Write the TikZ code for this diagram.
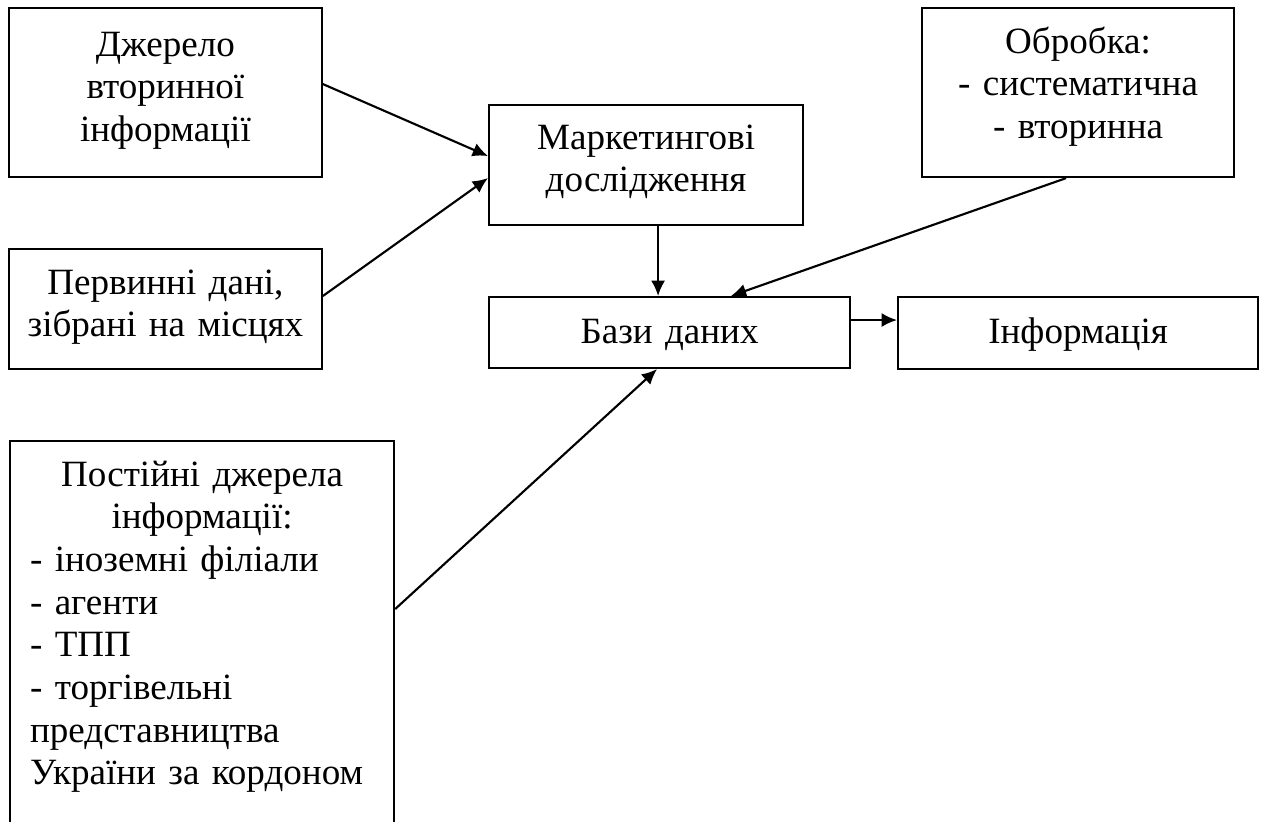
\documentclass[tikz,border=0pt]{standalone}
\usepackage{fontspec}
\setmainfont{Liberation Serif}
\usetikzlibrary{arrows.meta}

\tikzset{every picture/.style={line width=1.5pt}}
\tikzset{
  box/.style={draw, line width=1.6pt, inner sep=0pt, anchor=north west, align=center,
    font=\fontsize{27.8}{32}\selectfont},
  link/.style={line width=1.6pt, -{Latex[length=11.5pt,width=10.5pt]}}
}

\begin{document}
\begin{tikzpicture}[x=0.75pt,y=0.75pt,yscale=-1,xscale=1]
\useasboundingbox (0,0) rectangle (1262,821);

%Shape: Rectangle [src]
\node [box, minimum width=234.5pt, text width=200pt, text height=36pt, text depth=90.75pt] (src) at (8,7)
  {Джерело\\ вторинної\\ інформації};
%Shape: Rectangle [field]
\node [box, minimum width=234.5pt, text width=220pt, text height=33.75pt, text depth=56.25pt] (field) at (8,248)
  {Первинні дані,\\ зібрані на місцях};
%Shape: Rectangle [mkt]
\node [box, minimum width=235.5pt, text width=200pt, text height=33pt, text depth=57pt] (mkt) at (488,104)
  {Маркетингові\\ дослідження};
%Shape: Rectangle [proc]
\node [box, minimum width=234pt, text width=200pt, text height=33.75pt, text depth=93pt] (proc) at (921,7)
  {Обробка:\\ - систематична\\ - вторинна};
%Shape: Rectangle [db]
\node [box, minimum width=270.75pt, text width=200pt, text height=34.5pt, text depth=18.75pt] (db) at (488,296)
  {Бази даних};
%Shape: Rectangle [info]
\node [box, minimum width=270pt, text width=200pt, text height=34.5pt, text depth=19.5pt] (info) at (897,296)
  {Інформація};
%Shape: Rectangle [perm]
\node [box, align=left, minimum width=288pt, text width=258pt, text height=33.75pt, text depth=273.75pt] (perm) at (9,440)
  {\centering Постійні джерела\\ інформації:\par
   \raggedright - іноземні філіали\\ - агенти\\ - ТПП\\ - торгівельні\\ представництва\\ України за кордоном\par};

%Straight Lines (yscale=-1: negative yshift goes up)
\draw [link] ([yshift=-6.4pt]src.east) -- ([yshift=-6.75pt]mkt.west);
\draw [link] ([yshift=-9.75pt]field.east) -- ([yshift=9.75pt]mkt.west);
\draw [link] ([xshift=9pt]mkt.south) -- ([xshift=9pt]mkt.south |- db.north);
\draw [link] ([xshift=-9pt]proc.south) -- ([xshift=46pt]db.north);
\draw [link] ([yshift=-9.4pt]db.east) -- ([yshift=-9.4pt]db.east -| info.west);
\draw [link] ([yshift=-27.75pt]perm.east) -- ([xshift=-9.4pt]db.south);

\end{tikzpicture}
\end{document}
